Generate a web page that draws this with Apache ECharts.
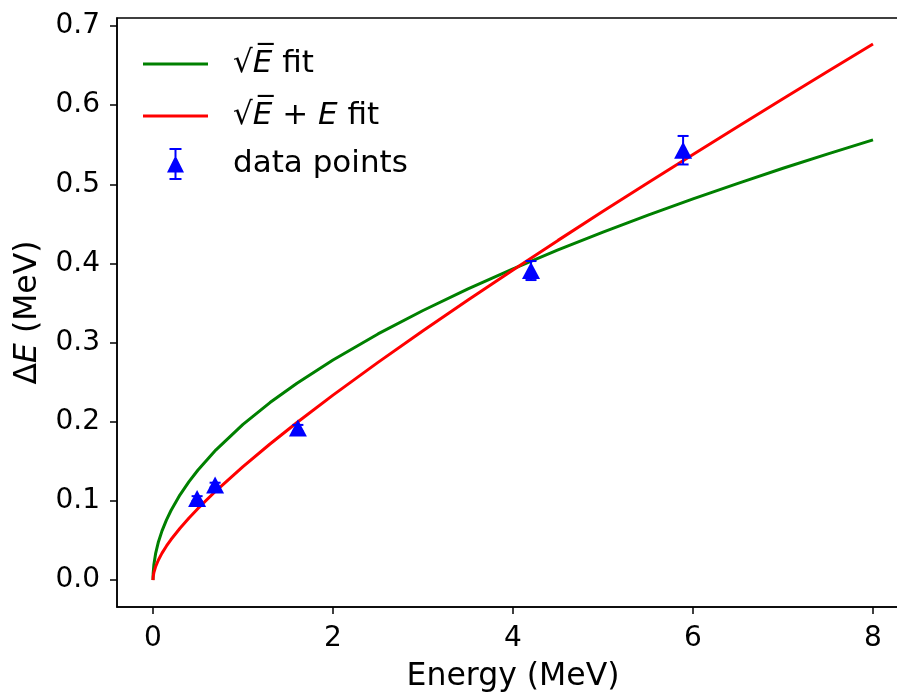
<!DOCTYPE html>
<html>
<head>
<meta charset="utf-8">
<script src="https://cdn.jsdelivr.net/npm/echarts@6/dist/echarts.min.js"></script>
<style>
html,body{margin:0;padding:0;background:#fff;}
#chart{width:897px;height:693px;}
</style>
</head>
<body>
<div id="chart"></div>
<script>
// Fit curve samples
const fitE = [0, 0.002, 0.01, 0.03, 0.06, 0.1, 0.15, 0.2, 0.3, 0.4, 0.5, 0.7, 1, 1.3, 1.6, 2, 2.5, 3, 3.5, 4, 4.5, 5, 5.5, 6, 6.5, 7, 7.5, 8];
const sqrtFit = [0, 0.0088, 0.0197, 0.0341, 0.0482, 0.0622, 0.0761, 0.0879, 0.1077, 0.1243, 0.1390, 0.1645, 0.1966, 0.2242, 0.2487, 0.2780, 0.3109, 0.3405, 0.3678, 0.3932, 0.4171, 0.4396, 0.4611, 0.4816, 0.5012, 0.5202, 0.5384, 0.5561];
const sqrtLinFit = [0, 0.0042, 0.0096, 0.0173, 0.0254, 0.0340, 0.0431, 0.0512, 0.0655, 0.0785, 0.0905, 0.1128, 0.1434, 0.1719, 0.1990, 0.2336, 0.2750, 0.3149, 0.3538, 0.3918, 0.4291, 0.4658, 0.5019, 0.5377, 0.5730, 0.6080, 0.6427, 0.6771];
// Data points
const dataE = [0.49, 0.69, 1.61, 4.2, 5.89];
const dataDE = [0.103, 0.120, 0.192, 0.391, 0.543];
const dataErr = [0.003, 0.003, 0.004, 0.012, 0.018];
// Ticks
const xTicks = [0, 2, 4, 6, 8];
const yTicks = [0, 0.1, 0.2, 0.3, 0.4, 0.5, 0.6, 0.7];

const FONT = 'DejaVu Sans';
const TICK_FS = 28;
const NAME_FS = 31.5;
const LEG_FS = 31;

const chart = echarts.init(document.getElementById('chart'), null, {renderer: 'canvas'});

const pair = (xs, ys) => xs.map((x, i) => [x, ys[i]]);
const errData = dataE.map((x, i) => [x, dataDE[i], dataErr[i]]);

const lineIcon = 'path://M0,0H65V3H0Z';
const dpIcon = 'path://M2.5,0H14.5V2H2.5Z M7.5,0H9.5V32H7.5Z M8.5,7.5L17,24.5H0Z M2.5,30H14.5V32H2.5Z';

const option = {
  animation: false,
  backgroundColor: '#fff',
  grid: {left: 117, top: 18, width: 792, bottom: 86, containLabel: false, outerBoundsMode: 'none',
    show: true, borderColor: '#000', borderWidth: 1.5, backgroundColor: 'transparent'},
  legend: {
    orient: 'vertical',
    left: 143,
    top: 44,
    padding: 0,
    itemWidth: 65,
    itemHeight: 32,
    itemGap: 12,
    textStyle: {
      fontFamily: FONT, fontSize: LEG_FS, color: '#000', lineHeight: 40,
      rich: {
        p: {fontFamily: FONT, fontSize: LEG_FS, padding: [0, 0, 0, 20]},
        i: {fontFamily: FONT, fontSize: LEG_FS, fontStyle: 'italic'},
        t: {fontFamily: FONT, fontSize: LEG_FS}
      }
    },
    formatter: function (name) {
      if (name === 'sqrtE') return '{p|√}{i|E\u0305}{t| fit}';
      if (name === 'sqrtEE') return '{p|√}{i|E\u0305}{t| + }{i|E}{t| fit}';
      return '{p|data points}';
    },
    data: [
      {name: 'sqrtE', icon: lineIcon},
      {name: 'sqrtEE', icon: lineIcon},
      {name: 'data', icon: dpIcon, textStyle: {lineHeight: 30}}
    ]
  },
  xAxis: {
    type: 'value',
    min: -0.4, max: 8.4,
    name: 'Energy (MeV)',
    nameLocation: 'middle',
    nameGap: 54,
    nameTextStyle: {fontFamily: FONT, fontSize: NAME_FS, color: '#000'},
    axisLine: {show: true, onZero: false, lineStyle: {color: '#000', width: 1.5}},
    axisTick: {show: true, length: 7, lineStyle: {color: '#000', width: 1.5}, customValues: xTicks},
    axisLabel: {fontFamily: FONT, fontSize: TICK_FS, color: '#000', margin: 18, customValues: xTicks, formatter: v => String(v)},
    splitLine: {show: false}
  },
  yAxis: {
    type: 'value',
    min: -0.034, max: 0.71,
    name: '{t|Δ}{i|E}{t| (MeV)}',
    nameLocation: 'middle',
    nameGap: 73,
    nameRotate: 90,
    nameTextStyle: {fontFamily: FONT, fontSize: NAME_FS, color: '#000',
      rich: {t: {fontFamily: FONT, fontSize: NAME_FS, color: '#000'}, i: {fontFamily: FONT, fontSize: NAME_FS, fontStyle: 'italic', color: '#000'}}},
    axisLine: {show: true, onZero: false, lineStyle: {color: '#000', width: 1.5}},
    axisTick: {show: true, length: 7, lineStyle: {color: '#000', width: 1.5}, customValues: yTicks},
    axisLabel: {fontFamily: FONT, fontSize: TICK_FS, color: '#000', margin: 17, customValues: yTicks, formatter: v => v.toFixed(1)},
    splitLine: {show: false}
  },
  series: [
    {
      name: 'sqrtE', type: 'line', data: pair(fitE, sqrtFit), smooth: false,
      symbol: 'none', showSymbol: false,
      lineStyle: {color: '#008000', width: 3}, itemStyle: {color: '#008000'}, z: 3
    },
    {
      name: 'sqrtEE', type: 'line', data: pair(fitE, sqrtLinFit), smooth: false,
      symbol: 'none', showSymbol: false,
      lineStyle: {color: '#ff0000', width: 3}, itemStyle: {color: '#ff0000'}, z: 4
    },
    {
      name: 'data', type: 'custom', data: errData, z: 5,
      itemStyle: {color: '#0000ff'},
      renderItem: function (params, api) {
        const x = api.value(0), y = api.value(1), e = api.value(2);
        const top = api.coord([x, y + e]);
        const bot = api.coord([x, y - e]);
        const hw = 5.5;
        const st = {stroke: '#0000ff', lineWidth: 2};
        return {
          type: 'group',
          children: [
            {type: 'line', shape: {x1: top[0], y1: top[1], x2: bot[0], y2: bot[1]}, style: st},
            {type: 'line', shape: {x1: top[0] - hw, y1: top[1], x2: top[0] + hw, y2: top[1]}, style: st},
            {type: 'line', shape: {x1: bot[0] - hw, y1: bot[1], x2: bot[0] + hw, y2: bot[1]}, style: st}
          ]
        };
      }
    },
    {
      name: 'data', type: 'scatter', data: pair(dataE, dataDE),
      symbol: 'triangle', symbolSize: [18, 17],
      itemStyle: {color: '#0000ff', opacity: 1}, z: 6
    }
  ]
};
chart.setOption(option);
</script>
</body>
</html>
